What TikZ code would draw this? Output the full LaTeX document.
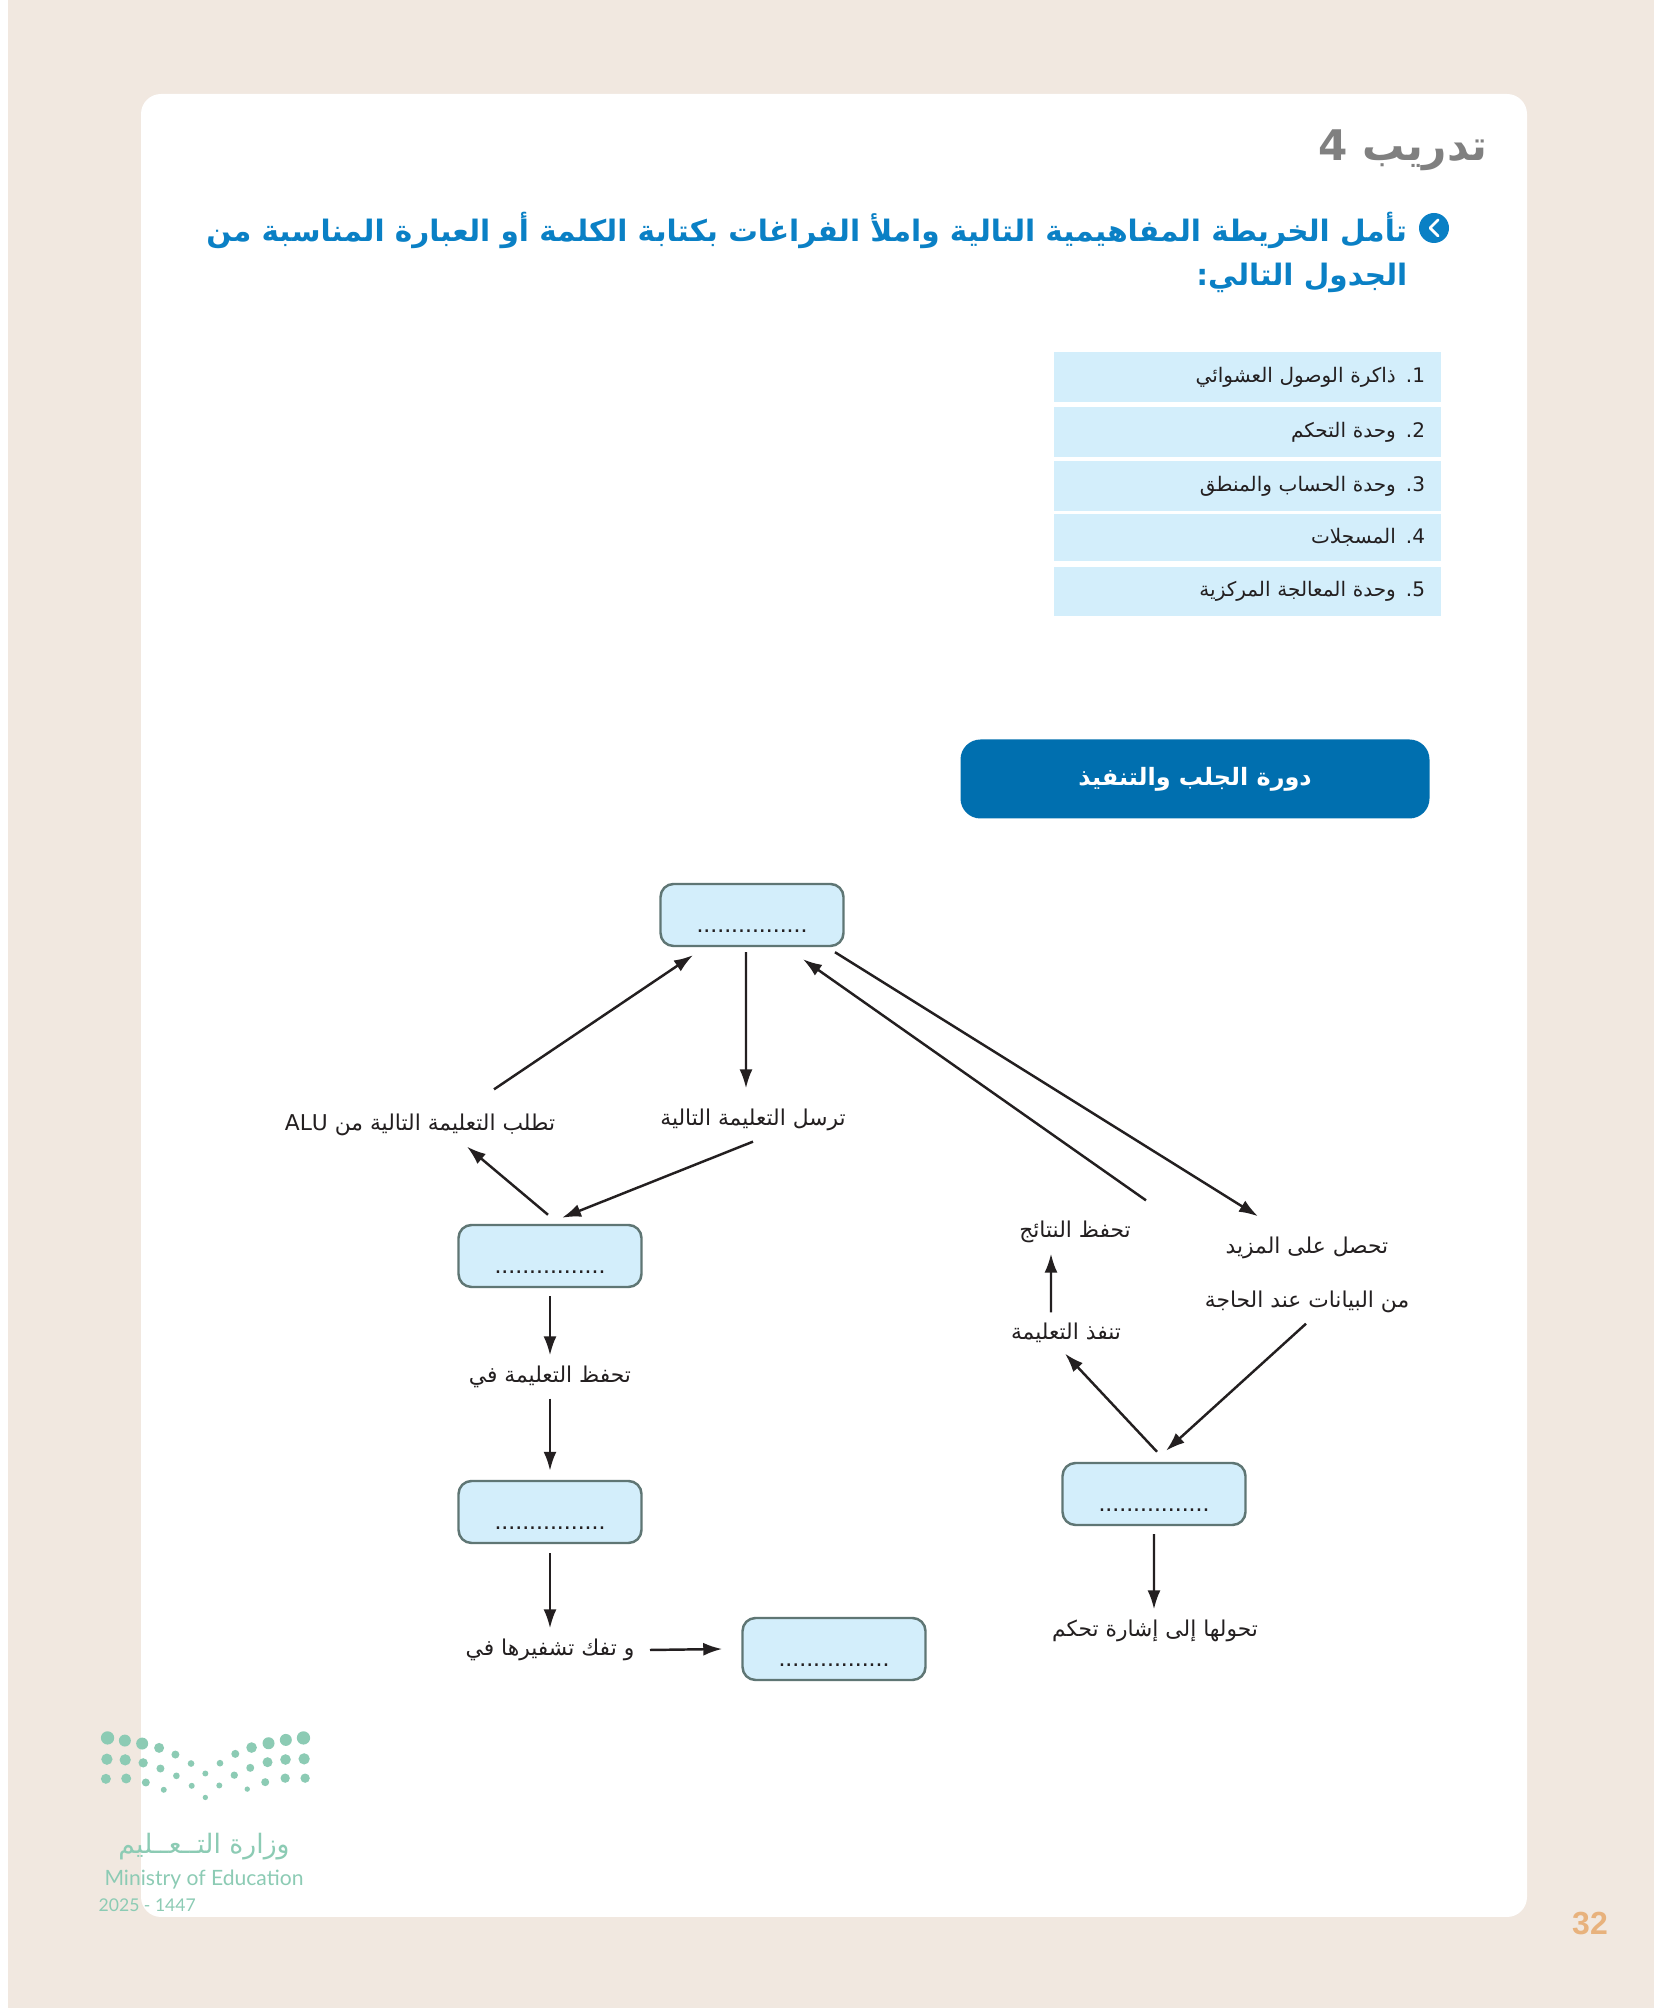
\documentclass[tikz,border=0pt]{standalone}
\usepackage{fontspec}
\usetikzlibrary{arrows.meta}
\setmainfont{Liberation Sans}
\newfontfamily\arabicfont[Script=Arabic]{DejaVu Sans}
\newfontfamily\logofont{Lato}
\TeXXeTstate=1
\newcommand{\artext}[1]{\arabicfont\beginR #1\endR}
\definecolor{paper}{HTML}{F1E8E0}
\definecolor{boxfill}{HTML}{D3EEFB}
\definecolor{boxline}{HTML}{5F7674}
\definecolor{headblue}{HTML}{006FAF}
\definecolor{askblue}{HTML}{0A80C5}
\definecolor{ink}{HTML}{231F20}
\definecolor{leaf}{HTML}{8CCBB4}
\tikzset{
  blank/.style={draw=boxline, line width=.7pt, fill=boxfill, rounded corners=.13cm,
    minimum width=1.83cm, minimum height=.62cm, inner sep=0pt, text depth=0pt, text height=.36cm,
    font=\fontsize{7.1}{8}\selectfont, text=ink},
  step label/.style={font=\arabicfont\fontsize{6.2}{15.4}\selectfont, text=ink, align=center, inner sep=0pt},
  row/.style={fill=boxfill, minimum width=3.87cm, inner sep=0pt, text width=3.55cm, align=right,
    font=\arabicfont\fontsize{5.7}{7}\selectfont, text=ink},
  flow/.style={-{Latex[length=.19cm,width=.13cm]}, line width=.7pt, color=ink}
}
\begin{document}
\begin{tikzpicture}
        \useasboundingbox (0,0) rectangle (16.54,20.08);

        % page and card
        \fill[paper] (.08,0) rectangle (16.54,20.08);
        \fill[white, rounded corners=.2cm] (1.41,.91) rectangle (15.27,19.14);

        % ministry logo
        \begin{scope}[shift={(.6,3.08)},x=.00333cm,y=-.00333cm]
        \foreach \dx/\dy/\dr in {143/114/20,195/122/18,247/131/18,298/144/15,347/164/12,394/191/10,437/221/9,481/190/10,527/162/12,576/143/16,627/130/18,679/120/18,732/114/20,
          141/178/17,196/180/17,250/189/14,302/206/12,350/228/10,396/258/9,437/293/8,479/257/9,524/226/11,572/204/12,624/187/15,678/179/16,734/177/17,
          138/237/15,199/236/15,258/248/12,312/270/9,563/268/8,617/247/12,677/235/14,737/235/14}
          \fill[leaf] (\dx,\dy) circle (\dr);
        \end{scope}
        \node[text=leaf, font=\arabicfont\fontsize{7.6}{8}\selectfont] (logoar) at (2.04,1.61) {\artext{وزارة التــعــليم}};
        \node[text=leaf, font=\logofont\fontsize{6}{7}\selectfont, inner sep=0pt] (logoen) at (2.04,1.28) {Ministry of Education};
        \node[text=leaf, font=\logofont\fontsize{5}{6}\selectfont, inner sep=0pt, anchor=west] (logoyear) at (.98,1.03) {2025 - 1447};

        % page number
        \node[text=brown!60!orange!60, font=\bfseries\fontsize{9.1}{10}\selectfont] (pagenum) at (15.9,.84) {32};

        % heading
        \node[text=black!50, font=\arabicfont\bfseries\fontsize{12}{14}\selectfont, anchor=east, inner sep=0pt] (title) at (14.88,18.58) {\artext{تدريب \beginL 4\endL}};
        \fill[askblue] (14.34,17.8) coordinate (bullet) circle (.15);
        \draw[white, line width=.8pt, line cap=round, line join=round] (14.38,17.88) -- (14.30,17.80) -- (14.38,17.72);
        \node[text=askblue, font=\arabicfont\bfseries\fontsize{8.4}{10}\selectfont, anchor=east, inner sep=0pt] (ask1) at (14.08,17.78) {\artext{تأمل الخريطة المفاهيمية التالية واملأ الفراغات بكتابة الكلمة أو العبارة المناسبة من}};
        \node[text=askblue, font=\arabicfont\bfseries\fontsize{8.4}{10}\selectfont, anchor=east, inner sep=0pt] (ask2) at (14.08,17.3) {\artext{الجدول التالي:}};

        % list of terms
        \node[row, minimum height=.50cm] (row1) at (12.475,16.31) {\artext{\beginL 1\endL. ذاكرة الوصول العشوائي}};
        \node[row, minimum height=.50cm] (row2) at (12.475,15.76) {\artext{\beginL 2\endL. وحدة التحكم}};
        \node[row, minimum height=.50cm] (row3) at (12.475,15.22) {\artext{\beginL 3\endL. وحدة الحساب والمنطق}};
        \node[row, minimum height=.47cm] (row4) at (12.475,14.705) {\artext{\beginL 4\endL. المسجلات}};
        \node[row, minimum height=.49cm] (row5) at (12.475,14.165) {\artext{\beginL 5\endL. وحدة المعالجة المركزية}};

        % banner
        \node[fill=headblue, rounded corners=.2cm, minimum width=4.69cm, minimum height=.79cm, text=white,
          font=\arabicfont\bfseries\fontsize{6.8}{8}\selectfont] (banner) at (11.95,12.29) {\artext{دورة الجلب والتنفيذ}};

        % empty boxes
        \node[blank] (cpu) at (7.52,10.93) {................};
        \node[blank] (fetch) at (5.50,7.52) {................};
        \node[blank] (store) at (5.50,4.96) {................};
        \node[blank] (decode) at (8.34,3.59) {................};
        \node[blank] (exec) at (11.54,5.14) {................};

        % step labels
        \node[step label] (askalu) at (4.20,8.83) {\artext{تطلب التعليمة التالية من \beginL ALU\endL}};
        \node[step label] (sendnext) at (7.53,8.88) {\artext{ترسل التعليمة التالية}};
        \node[step label] (keep) at (5.50,6.31) {\artext{تحفظ التعليمة في}};
        \node[step label] (unpack) at (5.50,3.58) {\artext{و تفك تشفيرها في}};
        \node[step label] (saveres) at (10.75,7.76) {\artext{تحفظ النتائج}};
        \node[step label] (runit) at (10.66,6.75) {\artext{تنفذ التعليمة}};
        \node[step label] (getmore) at (13.07,7.33) {\artext{تحصل على المزيد}\\\artext{من البيانات عند الحاجة}};
        \node[step label] (signal) at (11.55,3.77) {\artext{تحولها إلى إشارة تحكم}};

        % arrows around the top box
        \draw[flow] ([shift={(.74,.24)}]askalu.north) -- ([shift={(-.59,-.08)}]cpu.south);
        \draw[flow] ([shift={(-.06,-.05)}]cpu.south) -- ([shift={(-.07,.2)}]sendnext.north);
        \draw[flow] ([shift={(.83,-.05)}]cpu.south) -- ([shift={(-.49,.2)}]getmore.north);
        \draw[flow] ([shift={(.71,.2)}]saveres.north) -- ([shift={(.51,-.12)}]cpu.south);

        % left branch
        \draw[flow] ([shift={(0,-.1)}]sendnext.south) -- ([shift={(.12,.06)}]fetch.north);
        \draw[flow] ([shift={(-.02,.09)}]fetch.north) -- ([shift={(.47,-.1)}]askalu.south);
        \draw[flow] ([shift={(0,-.08)}]fetch.south) -- ([shift={(0,.1)}]keep.north);
        \draw[flow] ([shift={(0,-.1)}]keep.south) -- ([shift={(0,.09)}]store.north);
        \draw[flow] ([shift={(0,-.09)}]store.south) -- ([shift={(0,.1)}]unpack.north);
        \draw[flow] ([shift={(.15,0)}]unpack.east) -- ([shift={(-.19,0)}]decode.west);

        % right branch
        \draw[flow] ([shift={(0,-.08)}]exec.south) -- ([shift={(-.01,.1)}]signal.north);
        \draw[flow] ([shift={(.03,.1)}]exec.north) -- ([shift={(-.01,-.1)}]runit.south);
        \draw[flow] ([shift={(-.01,-.1)}]getmore.south) -- ([shift={(.12,.11)}]exec.north);
        \draw[flow] ([shift={(-.15,.1)}]runit.north) -- ([shift={(-.24,-.1)}]saveres.south);

    \end{tikzpicture}
\end{document}
